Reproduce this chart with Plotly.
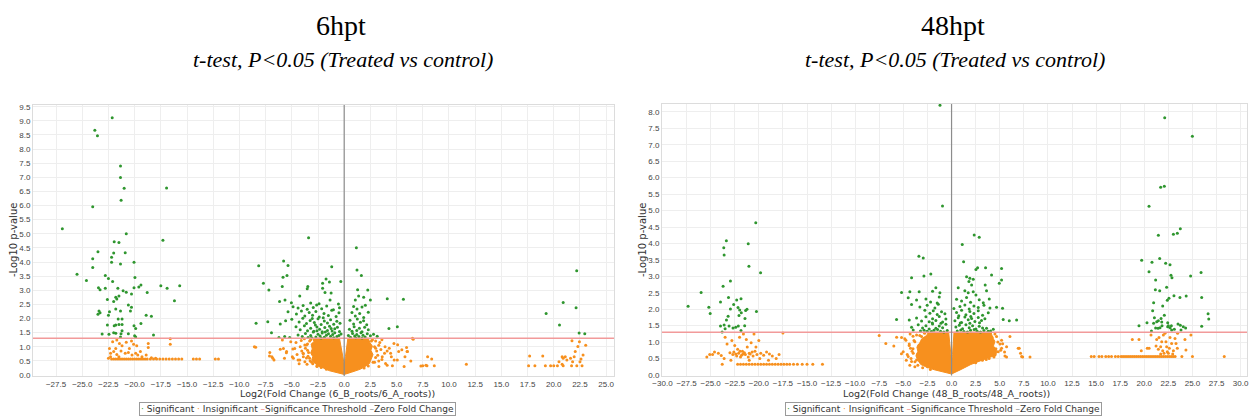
import plotly.graph_objects as go

# ---------------- 6hpt panel data ----------------
sig_6 = [(-22.14, 9.11), (-23.8, 8.67), (-23.55, 8.47), (-21.35, 7.40), (-21.35, 6.99), (-21.0, 6.61),
         (-16.95, 6.62), (-21.29, 6.19), (-24.0, 5.96), (-26.9, 5.18), (-20.8, 5.0), (-17.3, 4.77),
         (-21.95, 4.72), (-21.5, 4.69), (-23.5, 4.36), (-20.9, 4.33), (-22.0, 4.32), (-24.0, 4.12),
         (-22.2, 4.17), (-22.2, 3.99), (-21.35, 3.93), (-20.06, 3.99), (-24.0, 3.81), (-25.5, 3.57),
         (-19.97, 3.45), (-24.6, 3.35), (-22.8, 3.52), (-22.5, 3.42), (-22.1, 3.31), (-17.5, 3.16),
         (-15.7, 3.16), (-23.45, 3.09), (-23.3, 3.02), (-22.8, 3.07), (-21.6, 3.07), (-21.1, 2.98),
         (-20.8, 2.93), (-20.3, 2.87), (-20.06, 3.09), (-19.6, 3.12), (-19.4, 3.19), (-18.8, 2.92),
         (-16.9, 3.07), (-21.5, 2.80), (-21.8, 2.75), (-21.7, 2.69), (-20.6, 2.48), (-20.3, 2.40),
         (-20.4, 2.27), (-22.6, 2.67), (-22.0, 2.60), (-16.2, 2.63), (-23.4, 2.27), (-23.3, 2.20),
         (-23.5, 2.15), (-22.4, 2.24), (-21.8, 2.34), (-22.5, 2.12), (-21.35, 2.27), (-21.2, 1.98),
         (-21.57, 1.98), (-22.6, 1.77), (-21.95, 1.74), (-21.8, 1.77), (-21.5, 1.79), (-21.2, 1.79),
         (-20.06, 1.74), (-19.9, 1.65), (-19.4, 1.82), (-18.9, 2.12), (-18.4, 2.08), (-18.2, 1.42),
         (-23.1, 1.45), (-22.45, 1.44), (-22.0, 1.50), (-21.8, 1.48), (-21.3, 1.46), (-20.6, 1.46),
         (-20.0, 1.39), (-19.9, 1.35), (-21.2, 1.57), (-21.35, 1.35),
         (-3.40, 4.86), (1.16, 4.51), (-5.78, 4.04), (-8.16, 3.87), (-5.36, 3.88), (-5.46, 3.52),
         (-5.84, 3.46), (-1.19, 3.83), (1.22, 3.72), (1.64, 3.52), (-7.71, 3.25), (-1.73, 3.40),
         (-1.41, 3.29), (-0.32, 3.31), (-2.06, 3.25), (-5.91, 3.13), (-7.19, 3.01), (-3.47, 3.13),
         (-3.53, 3.05), (-2.06, 3.07), (-1.83, 2.92), (-1.25, 2.90), (1.28, 3.02), (2.25, 3.01),
         (4.11, 2.70), (5.65, 2.68), (-6.17, 2.60), (-5.65, 2.66), (-5.04, 2.56), (-4.24, 2.80),
         (-1.35, 2.66), (-0.55, 2.51), (1.06, 2.66), (1.38, 2.80), (1.86, 2.75), (2.50, 2.66),
         (-4.88, 2.42), (-4.40, 2.37), (-3.92, 2.46), (-3.53, 2.33), (-2.95, 2.39), (-2.63, 2.48),
         (-2.15, 2.35), (-1.67, 2.44), (-1.03, 2.31), (0.90, 2.43), (1.22, 2.34), (1.70, 2.41),
         (2.02, 2.47), (-0.45, 2.38), (-2.4, 2.52), (-3.2, 2.55),
         (-5.36, 2.24), (-4.56, 2.16), (-4.08, 2.27), (-3.76, 2.09), (-3.34, 2.21), (-3.02, 2.12),
         (-2.70, 2.25), (-2.38, 2.05), (-1.93, 2.18), (-1.51, 2.11), (-1.19, 2.29), (-0.77, 2.07),
         (0.74, 2.21), (1.06, 2.09), (1.48, 2.18), (1.86, 2.04), (2.3, 2.22), (-0.5, 2.2),
         (-5.0, 1.97), (-4.3, 1.88), (-3.95, 2.01), (-3.6, 1.82), (-3.25, 1.93), (-2.85, 1.86),
         (-2.5, 1.99), (-2.2, 1.79), (-1.9, 1.91), (-1.6, 1.84), (-1.3, 1.96), (-1.0, 1.80),
         (-0.7, 1.90), (-0.4, 1.83), (0.55, 1.94), (0.9, 1.81), (1.25, 1.98), (1.55, 1.87),
         (1.85, 1.92), (2.15, 1.78), (-2.0, 2.03), (-3.05, 2.0),
         (-8.41, 1.83), (-7.29, 1.89), (-6.10, 1.81), (-5.59, 1.92), (-6.94, 1.50),
         (-4.6, 1.71), (-4.2, 1.60), (-3.8, 1.74), (-3.5, 1.57), (-3.2, 1.66), (-2.9, 1.55),
         (-2.6, 1.70), (-2.35, 1.62), (-2.1, 1.53), (-1.85, 1.68), (-1.6, 1.58), (-1.4, 1.73),
         (-1.15, 1.56), (-0.9, 1.64), (-0.65, 1.69), (-0.45, 1.54), (-2.75, 1.77), (-1.25, 1.65),
         (0.5, 1.62), (0.75, 1.55), (0.95, 1.71), (1.2, 1.58), (1.45, 1.66), (1.7, 1.53),
         (1.95, 1.69), (2.3, 1.60), (4.27, 1.65), (5.07, 1.71),
         (-4.4, 1.42), (-4.0, 1.36), (-3.7, 1.47), (-3.45, 1.33), (-3.2, 1.40), (-2.95, 1.52),
         (-2.7, 1.35), (-2.5, 1.44), (-2.3, 1.38), (-2.1, 1.49), (-1.9, 1.34), (-1.7, 1.41),
         (-1.5, 1.46), (-1.3, 1.37), (-1.1, 1.43), (-0.9, 1.50), (-0.7, 1.36), (-0.5, 1.40),
         (-0.3, 1.45), (-2.6, 1.57), (-1.8, 1.52), (-1.0, 1.32), (-3.1, 1.32), (-2.2, 1.31),
         (0.4, 1.40), (0.6, 1.34), (0.8, 1.47), (1.0, 1.38), (1.2, 1.43), (1.4, 1.36),
         (1.6, 1.50), (1.8, 1.41), (2.0, 1.35), (2.2, 1.46), (2.5, 1.39), (2.8, 1.44),
         (3.15, 1.37), (1.1, 1.32), (1.7, 1.31), (-5.68, 1.36), (-6.23, 1.33), (-5.20, 1.33),
         (22.19, 3.69), (20.9, 2.57), (22.13, 2.38), (19.27, 2.18), (20.55, 1.77), (22.42, 1.49),
         (22.96, 1.46)]

ins_6 = [(-22.4, 0.94), (-22.1, 1.18), (-21.7, 1.24), (-21.45, 1.12), (-21.2, 1.04), (-20.8, 1.16),
         (-20.3, 1.20), (-20.1, 1.09), (-19.8, 1.04), (-18.7, 1.12), (-18.7, 0.97), (-16.6, 1.28),
         (-16.6, 1.09), (-22.3, 0.77), (-22.0, 0.83), (-21.7, 0.73), (-21.3, 0.85), (-20.9, 0.77),
         (-20.6, 0.80), (-20.25, 0.71), (-19.9, 0.77), (-19.7, 0.71), (-19.3, 0.65), (-18.9, 0.71),
         (-22.3, 0.65), (-21.8, 0.94), (-22.5, 0.59), (-21.5, 0.65), (-20.5, 0.94), (-19.45, 0.83),
         (-18.4, 0.61), (-18.0, 0.59),
         (-22.2, 0.57), (-22.0, 0.57), (-21.8, 0.57), (-21.6, 0.57), (-21.4, 0.57), (-21.2, 0.57),
         (-21.0, 0.57), (-20.8, 0.57), (-20.6, 0.57), (-20.4, 0.57), (-20.2, 0.57), (-20.0, 0.57),
         (-19.8, 0.57), (-19.6, 0.57), (-19.4, 0.57), (-19.2, 0.57), (-19.0, 0.57), (-18.8, 0.57),
         (-18.5, 0.57), (-18.2, 0.57), (-17.9, 0.57), (-17.6, 0.57), (-17.3, 0.57), (-17.0, 0.57),
         (-16.7, 0.57), (-16.4, 0.57), (-16.1, 0.57), (-15.8, 0.57), (-15.5, 0.57), (-14.4, 0.57),
         (-14.1, 0.57), (-13.8, 0.57), (-12.3, 0.57), (-12.0, 0.57),
         (-8.45, 0.98), (-7.1, 0.80), (-6.9, 0.65), (-6.7, 0.53), (-5.9, 1.24), (-5.8, 0.94),
         (-5.7, 0.59), (-5.5, 0.83), (-5.1, 1.18), (-4.9, 0.92), (-4.85, 0.59), (-4.5, 0.73),
         (-4.4, 0.53), (-4.05, 0.85), (-3.9, 0.65), (-3.75, 0.47), (-3.6, 1.06), (-3.3, 0.59),
         (-3.0, 0.83), (-2.8, 0.47), (-8.57, 1.0), (-7.13, 0.67), (-6.81, 0.59), (-6.10, 0.91),
         (-5.52, 0.79), (-4.95, 0.65), (-4.72, 0.94), (-4.24, 0.53), (-3.92, 0.77), (-3.76, 1.06),
         (-3.2, 1.25), (-3.5, 1.1), (-3.7, 0.95), (-3.4, 0.8), (-3.6, 0.6), (-3.1, 0.45),
         (-2.6, 0.3), (-3.9, 0.75), (-4.2, 1.0), (-3.0, 1.1), (-3.3, 1.2), (-3.5, 0.88),
         (-3.45, 0.66), (-3.25, 0.5), (-3.0, 0.4), (-2.6, 0.33), (-2.2, 0.27), (-1.7, 0.2),
         (-4.1, 1.22), (-3.8, 1.28), (-4.6, 1.15), (-4.3, 0.4), (-3.55, 0.38),
         (3.0, 1.2), (3.3, 1.05), (3.5, 0.9), (3.2, 0.7), (3.6, 0.55), (2.9, 0.45), (3.9, 1.0),
         (4.1, 0.85), (3.0, 0.95), (2.7, 1.25), (2.6, 1.2), (2.9, 1.0), (3.1, 0.85), (3.0, 0.62),
         (2.75, 0.45), (2.3, 0.32), (1.9, 0.25), (3.4, 1.15), (3.3, 0.5), (3.6, 1.25),
         (4.43, 0.77), (5.07, 0.53), (5.72, 0.30),
         (6.04, 0.83), (6.52, 1.30), (7.32, 0.32), (7.80, 0.35), (3.63, 0.65), (3.95, 0.41),
         (3.31, 0.30), (4.75, 1.12), (6.58, 1.27), (7.96, 0.65), (8.35, 0.57), (7.9, 0.33),
         (7.5, 0.33), (8.6, 0.33), (11.66, 0.38), (6.36, 0.5), (6.0, 0.83), (5.1, 1.07),
         (5.5, 0.89), (5.8, 0.65), (4.6, 0.33), (4.77, 0.53), (4.1, 0.35), (5.95, 0.97),
         (4.3, 0.95), (3.85, 0.77), (5.2, 0.83), (4.5, 0.65),
         (17.7, 0.67), (17.6, 0.33), (18.2, 0.33), (18.95, 0.67), (19.2, 0.33), (19.7, 0.33),
         (20.0, 0.33), (20.35, 0.33), (20.5, 0.47), (20.8, 0.65), (20.9, 0.59), (21.1, 0.65),
         (21.25, 0.53), (20.8, 0.38), (20.9, 0.33), (21.7, 0.33), (21.8, 0.47), (21.95, 0.65),
         (22.05, 0.83), (22.3, 1.01), (22.45, 1.18), (21.74, 1.21), (22.6, 0.57), (22.7, 0.33),
         (22.8, 0.71), (23.05, 1.05), (21.6, 0.59), (22.5, 0.47), (22.2, 0.33)]

# outline of the solid orange core around zero fold change (6hpt)
core_6 = [(0.0, 0.02), (-0.8, 0.1), (-1.4, 0.15), (-2.0, 0.25), (-2.5, 0.32), (-2.8, 0.42),
          (-3.1, 0.52), (-3.0, 0.65), (-3.2, 0.78), (-3.05, 0.92), (-3.15, 1.08), (-2.9, 1.18),
          (-3.0, 1.30), (-0.45, 1.30), (-0.12, 0.65), (0.0, 0.38), (0.12, 0.65), (0.35, 1.30),
          (2.3, 1.30), (2.45, 1.15), (2.7, 1.02), (2.55, 0.88), (2.75, 0.72), (2.55, 0.55),
          (2.4, 0.4), (2.0, 0.3), (1.5, 0.2), (0.7, 0.1), (0.0, 0.02)]

# ---------------- 48hpt panel data ----------------
sig_48 = [(2.35, 4.26), (2.87, 4.19), (1.11, 3.97), (-3.39, 3.61), (-2.94, 3.56), (1.25, 3.44),
          (2.53, 3.21), (2.70, 3.26), (3.53, 3.26), (5.19, 3.24), (4.15, 3.04), (-2.15, 3.07),
          (-2.87, 3.01), (-4.15, 2.96), (1.56, 2.99), (1.90, 2.94), (2.25, 2.91), (5.19, 2.89),
          (4.95, 2.79), (1.80, 2.84), (2.08, 2.74), (3.49, 2.74), (0.69, 2.65), (-1.63, 2.65),
          (-1.97, 2.55), (-5.19, 2.51), (-4.33, 2.53), (-3.36, 2.53), (1.38, 2.56), (1.73, 2.50),
          (2.25, 2.53), (2.53, 2.43), (3.63, 2.56), (-1.21, 2.50), (-4.50, 2.35), (-3.63, 2.28),
          (-2.66, 2.31), (-2.18, 2.22), (-1.49, 2.19), (0.52, 2.30), (1.04, 2.25), (1.56, 2.36),
          (1.97, 2.21), (2.87, 2.29), (3.29, 2.20), (3.91, 2.31), (-1.28, 2.37), (-4.15, 2.14),
          (-3.29, 2.07), (-2.53, 2.12), (-1.73, 2.04), (-1.38, 2.15), (0.24, 2.02), (0.87, 2.08),
          (1.38, 2.13), (1.83, 2.01), (2.32, 2.10), (2.77, 2.05), (3.36, 2.12), (3.98, 2.04),
          (4.67, 2.06), (5.29, 2.03), (-2.77, 1.97), (-2.25, 1.88), (-1.90, 1.95), (-1.49, 1.84),
          (-1.04, 1.92), (-0.69, 1.86), (0.52, 1.90), (1.04, 1.97), (1.49, 1.83), (1.90, 1.93),
          (2.32, 1.87), (2.77, 1.95), (3.22, 1.82), (3.81, 1.89), (0.75, 1.80), (2.0, 1.78),
          (-5.71, 1.69), (-4.39, 1.67), (-3.63, 1.73), (-3.11, 1.64), (-2.66, 1.77), (-2.32, 1.62),
          (-1.97, 1.71), (-1.63, 1.66), (-1.28, 1.78), (-0.93, 1.61), (-0.59, 1.70), (0.35, 1.65),
          (0.69, 1.74), (1.04, 1.60), (1.38, 1.76), (1.73, 1.68), (2.08, 1.72), (2.42, 1.63),
          (2.77, 1.75), (3.11, 1.66), (3.46, 1.71), (5.99, 1.65), (6.75, 1.67), (5.36, 1.69),
          (-2.0, 1.58), (-1.1, 1.57), (0.9, 1.58), (1.9, 1.57), (2.9, 1.59),
          (-4.15, 1.45), (-3.46, 1.53), (-3.01, 1.43), (-2.66, 1.50), (-2.32, 1.40), (-1.97, 1.55),
          (-1.63, 1.42), (-1.28, 1.49), (-0.93, 1.44), (-0.59, 1.54), (0.45, 1.46), (0.80, 1.51),
          (1.14, 1.41), (1.49, 1.53), (1.83, 1.44), (2.18, 1.50), (2.53, 1.40), (2.87, 1.48),
          (3.22, 1.43), (3.63, 1.42), (4.33, 1.39), (-3.98, 1.37), (-3.22, 1.34), (-2.53, 1.33),
          (-1.83, 1.36), (-1.14, 1.33), (-0.45, 1.35), (0.59, 1.34), (1.28, 1.32), (1.97, 1.36),
          (2.66, 1.33), (3.36, 1.35), (4.05, 1.34), (-2.85, 1.36), (-2.1, 1.32), (-1.45, 1.38),
          (-0.8, 1.31), (0.95, 1.37), (1.65, 1.31), (2.35, 1.38), (3.0, 1.31), (3.8, 1.33),
          (-0.94, 5.14), (-1.2, 8.2),
          (-20.32, 4.63), (-23.37, 4.08), (-23.64, 3.87), (-23.60, 3.65), (-21.1, 3.99),
          (-21.03, 3.31), (-19.82, 3.11), (-22.95, 2.86), (-23.71, 2.70), (-25.99, 2.51),
          (-27.34, 2.09), (-25.19, 2.06), (-25.05, 1.87), (-23.15, 2.36), (-23.98, 2.22),
          (-22.30, 2.28), (-21.85, 2.32), (-22.61, 2.14), (-22.95, 2.01), (-22.16, 2.05),
          (-21.99, 1.98), (-21.82, 1.89), (-22.06, 1.81), (-21.37, 1.96), (-21.23, 2.00),
          (-21.44, 1.72), (-20.25, 1.93), (-23.19, 1.79), (-23.36, 1.67), (-23.98, 1.49),
          (-23.60, 1.52), (-23.09, 1.49), (-22.68, 1.43), (-22.40, 1.45), (-22.13, 1.49),
          (-21.47, 1.50), (-23.81, 1.31), (-21.85, 1.35), (-23.5, 1.41),
          (22.12, 7.82), (24.99, 7.26), (21.70, 5.71), (22.08, 5.74), (20.49, 5.13), (23.74, 4.45),
          (23.43, 4.31), (23.02, 4.28), (21.46, 4.25), (19.73, 3.49), (21.60, 3.54), (20.80, 3.43),
          (22.22, 3.40), (22.67, 3.35), (20.49, 3.14), (25.89, 3.12), (24.81, 3.01), (22.77, 3.03),
          (22.87, 2.96), (21.18, 2.89), (22.32, 2.67), (21.15, 2.59), (21.60, 2.56), (25.96, 2.36),
          (23.08, 2.41), (23.70, 2.36), (24.35, 2.40), (22.56, 2.33), (22.39, 2.27), (20.97, 2.20),
          (21.91, 2.10), (20.87, 1.95), (26.62, 1.86), (26.69, 1.70), (22.08, 1.82), (21.74, 1.72),
          (21.46, 1.65), (21.05, 1.74), (20.28, 1.59), (19.45, 1.50), (20.97, 1.57), (21.29, 1.62),
          (21.81, 1.61), (22.43, 1.59), (22.43, 1.47), (21.84, 1.50), (21.43, 1.42), (21.18, 1.43),
          (21.63, 1.44), (22.50, 1.50), (22.81, 1.50), (23.12, 1.39), (23.50, 1.55), (23.74, 1.51),
          (24.05, 1.47), (24.29, 1.43), (23.81, 1.37), (20.74, 1.34), (25.96, 1.48), (22.84, 1.37),
          (22.67, 1.44)]

ins_48 = [(-25.1, 0.62), (-24.6, 0.70), (-24.2, 0.66), (-23.9, 0.59), (-23.6, 0.50), (-23.3, 0.94),
          (-23.0, 0.68), (-22.8, 1.05), (-22.5, 0.90), (-22.4, 0.64), (-22.2, 0.78), (-22.0, 1.15),
          (-21.9, 0.55), (-21.7, 0.72), (-21.6, 1.25), (-21.4, 0.62), (-21.2, 0.85), (-21.0, 0.66),
          (-20.8, 0.98), (-20.6, 0.58), (-20.4, 0.72), (-20.2, 0.62), (-20.0, 1.05), (-19.8, 0.66),
          (-19.5, 0.60), (-19.2, 0.70), (-18.9, 0.64), (-18.6, 0.58), (-18.2, 0.50), (-17.9, 0.62),
          (-17.5, 1.28), (-22.7, 0.62), (-22.1, 0.66), (-21.8, 0.60), (-21.5, 0.68), (-21.1, 0.55),
          (-20.9, 0.64), (-20.7, 0.70), (-23.5, 1.15), (-24.8, 0.62), (-25.4, 0.55), (-21.3, 1.08),
          (-20.5, 1.25), (-22.9, 0.45), (-21.0, 0.45), (-19.0, 0.45), (-19.9, 0.5), (-20.3, 0.85),
          (-23.8, 0.33), (-22.6, 0.70), (-22.3, 0.58), (-21.95, 0.72), (-21.65, 0.64),
          (-22.2, 0.33), (-21.9, 0.33), (-21.6, 0.33), (-21.3, 0.33), (-21.0, 0.33), (-20.7, 0.33),
          (-20.4, 0.33), (-20.1, 0.33), (-19.8, 0.33), (-19.5, 0.33), (-19.2, 0.33), (-18.9, 0.33),
          (-18.6, 0.33), (-18.3, 0.33), (-18.0, 0.33), (-17.7, 0.33), (-17.4, 0.33), (-17.1, 0.33),
          (-16.8, 0.33), (-16.4, 0.33), (-16.0, 0.33), (-15.5, 0.33), (-15.0, 0.33), (-14.4, 0.33),
          (-13.4, 0.33),
          (-7.51, 1.20), (-6.82, 0.96), (-5.99, 0.88), (-5.19, 1.14), (-4.74, 1.06), (-4.39, 0.94),
          (-5.02, 0.71), (-4.50, 0.56), (-4.15, 0.41), (-4.33, 0.30), (-3.81, 0.25), (-3.63, 0.46),
          (-3.98, 0.66), (-4.26, 0.81), (-3.81, 1.01), (-3.63, 1.22), (-3.11, 1.17), (-5.7, 1.15),
          (-5.2, 0.65), (-4.85, 1.10), (-4.2, 0.5), (-4.0, 0.8), (-3.8, 0.4),
          (-4.3, 1.25), (-4.0, 1.18), (-3.9, 1.05), (-4.4, 0.9), (-4.1, 0.72), (-4.6, 0.62),
          (-3.5, 0.3), (-3.0, 0.22), (-2.5, 0.25), (-2.2, 0.17), (-4.7, 0.45), (-3.3, 1.2),
          (-2.8, 1.27), (-3.4, 0.9), (-3.55, 0.62),
          (4.5, 1.25), (4.8, 1.0), (5.1, 0.75), (4.4, 0.55), (3.6, 0.47), (5.3, 0.95), (4.2, 1.15),
          (5.5, 0.7), (3.2, 0.45), (2.5, 0.37), (4.6, 0.8), (3.9, 0.5),
          (4.67, 1.17), (5.19, 1.06), (6.06, 1.17), (5.71, 0.86), (5.19, 0.81), (5.54, 0.58),
          (4.84, 0.71), (6.92, 0.81), (7.16, 0.66), (7.27, 0.56), (4.50, 0.61), (5.02, 0.94),
          (7.02, 0.81), (7.38, 0.55), (8.14, 0.55), (5.71, 0.55),
          (18.76, 1.08), (19.45, 1.08), (19.69, 0.74), (20.31, 0.81), (20.5, 0.81), (20.7, 1.22),
          (21.29, 1.08), (21.53, 1.14), (21.70, 0.86), (21.81, 1.01), (21.98, 1.22), (22.15, 1.27),
          (22.25, 1.01), (22.32, 0.86), (22.39, 0.71), (22.6, 0.81), (22.67, 1.14), (22.84, 0.96),
          (23.02, 0.74), (23.19, 1.11), (23.29, 0.96), (23.43, 0.81), (23.46, 1.27), (24.22, 1.08),
          (24.32, 0.76), (24.84, 1.22), (21.91, 0.74), (22.05, 0.66), (21.7, 0.64), (21.46, 0.78),
          (21.22, 0.88), (22.5, 0.66), (22.95, 0.64),
          (14.5, 0.56), (14.8, 0.56), (15.3, 0.56), (15.6, 0.56), (16.0, 0.56), (16.3, 0.56),
          (16.6, 0.56), (17.0, 0.56), (17.3, 0.56), (17.6, 0.56), (17.8, 0.56), (18.0, 0.56),
          (18.2, 0.56), (18.4, 0.56), (18.6, 0.56), (18.8, 0.56), (19.0, 0.56), (19.2, 0.56),
          (19.4, 0.56), (19.6, 0.56), (19.8, 0.56), (20.0, 0.56), (20.2, 0.56), (20.4, 0.56),
          (20.6, 0.56), (20.8, 0.56), (21.0, 0.56), (21.2, 0.56), (21.4, 0.56), (21.6, 0.56),
          (21.8, 0.56), (22.0, 0.56), (22.2, 0.56), (22.4, 0.56), (22.6, 0.56), (22.8, 0.56),
          (23.0, 0.56), (23.2, 0.56), (23.9, 0.56), (25.0, 0.56), (28.3, 0.56)]

core_48 = [(0.0, 0.03), (-1.0, 0.09), (-1.8, 0.16), (-2.6, 0.24), (-3.2, 0.32), (-3.5, 0.45),
           (-3.7, 0.58), (-3.5, 0.72), (-3.6, 0.85), (-3.3, 0.98), (-3.1, 1.1), (-2.6, 1.2),
           (-2.4, 1.30), (-0.3, 1.30), (-0.1, 0.62), (0.0, 0.42), (0.1, 0.62), (0.25, 1.30),
           (4.1, 1.30), (4.25, 1.15), (4.5, 1.02), (4.35, 0.88), (4.7, 0.75), (4.6, 0.6),
           (3.8, 0.52), (3.0, 0.44), (2.0, 0.32), (1.0, 0.17), (0.4, 0.08), (0.0, 0.03)]

threshold = 1.301
x_ticks_6 = [-27.5, -25.0, -22.5, -20.0, -17.5, -15.0, -12.5, -10.0, -7.5, -5.0, -2.5, 0.0,
             2.5, 5.0, 7.5, 10.0, 12.5, 15.0, 17.5, 20.0, 22.5, 25.0]
y_ticks_6 = [0.0, 0.5, 1.0, 1.5, 2.0, 2.5, 3.0, 3.5, 4.0, 4.5, 5.0, 5.5, 6.0, 6.5, 7.0, 7.5,
             8.0, 8.5, 9.0, 9.5]
x_ticks_48 = [-30.0, -27.5, -25.0, -22.5, -20.0, -17.5, -15.0, -12.5, -10.0, -7.5, -5.0, -2.5,
              0.0, 2.5, 5.0, 7.5, 10.0, 12.5, 15.0, 17.5, 20.0, 22.5, 25.0, 27.5, 30.0]
y_ticks_48 = [0.0, 0.5, 1.0, 1.5, 2.0, 2.5, 3.0, 3.5, 4.0, 4.5, 5.0, 5.5, 6.0, 6.5, 7.0, 7.5, 8.0]

GREEN = "#2f962f"
ORANGE = "#f7901e"
W, H = 1250, 419


def xs(pts):
    return [p[0] for p in pts]


def ys(pts):
    return [p[1] for p in pts]


fig = go.Figure()
panels = [("x", "y", sig_6, ins_6, core_6), ("x2", "y2", sig_48, ins_48, core_48)]
for xa, ya, sig, ins, core in panels:
    fig.add_trace(go.Scatter(x=xs(core), y=ys(core), xaxis=xa, yaxis=ya, mode="lines",
                             fill="toself", fillcolor=ORANGE, line=dict(width=1, color=ORANGE),
                             hoverinfo="skip", showlegend=False))
    fig.add_trace(go.Scatter(x=xs(ins), y=ys(ins), xaxis=xa, yaxis=ya, mode="markers",
                             marker=dict(color=ORANGE, size=3.0, line=dict(width=0)),
                             name="Insignificant", showlegend=False))
    fig.add_trace(go.Scatter(x=xs(sig), y=ys(sig), xaxis=xa, yaxis=ya, mode="markers",
                             marker=dict(color=GREEN, size=3.0, line=dict(width=0)),
                             name="Significant", showlegend=False))
    fig.add_shape(type="line", xref=xa + " domain", yref=ya, x0=0, x1=1,
                  y0=threshold, y1=threshold, line=dict(color="#f29a9a", width=1.6), layer="above")
    fig.add_shape(type="line", xref=xa, yref=ya + " domain", x0=0, x1=0, y0=0, y1=1,
                  line=dict(color="#8c8c8c", width=1.2), layer="above")

tickfont = dict(family="Liberation Sans", size=8, color="#444")
axis_common = dict(showgrid=True, gridcolor="#eeeeee", gridwidth=1, zeroline=False,
                   showline=True, linecolor="#dcdcdc", mirror=True, tickfont=tickfont,
                   tickformat=".1f", ticks="", tickangle=0, automargin=False)

fig.update_layout(
    width=W, height=H, margin=dict(l=0, r=0, t=0, b=0, autoexpand=False),
    paper_bgcolor="white", plot_bgcolor="white",
    xaxis=dict(domain=[33 / W, 614 / W], range=[-29.7, 25.75], tickvals=x_ticks_6,
               anchor="y", **axis_common),
    yaxis=dict(domain=[1 - 376 / H, 1 - 105 / H], range=[-0.035, 9.56], tickvals=y_ticks_6,
               anchor="x", **axis_common),
    xaxis2=dict(domain=[662 / W, 1247 / W], range=[-30.05, 30.66], tickvals=x_ticks_48,
                anchor="y2", **axis_common),
    yaxis2=dict(domain=[1 - 375.5 / H, 1 - 104 / H], range=[-0.015, 8.24], tickvals=y_ticks_48,
                anchor="x2", **axis_common),
)

serif = "Liberation Serif"
sans = "DejaVu Sans"
ann = []
for cx, title in [(341, "6hpt"), (953, "48hpt")]:
    ann.append(dict(x=cx / W, y=1 - 26 / H, xref="paper", yref="paper", text=title,
                    showarrow=False, font=dict(family=serif, size=28, color="black"),
                    xanchor="center", yanchor="middle"))
for cx in [343, 955]:
    ann.append(dict(x=cx / W, y=1 - 60 / H, xref="paper", yref="paper",
                    text="<i>t-test, P&lt;0.05 (Treated vs control)</i>", showarrow=False,
                    font=dict(family=serif, size=22, color="black"),
                    xanchor="center", yanchor="middle"))
for cx in [13, 642]:
    ann.append(dict(x=cx / W, y=1 - 240 / H, xref="paper", yref="paper", text="-Log10 p-value",
                    textangle=-90, showarrow=False, font=dict(family=sans, size=10, color="#333"),
                    xanchor="center", yanchor="middle"))
for cx, t in [(338, "Log2(Fold Change (6_B_roots/6_A_roots))"),
              (946, "Log2(Fold Change (48_B_roots/48_A_roots))")]:
    ann.append(dict(x=cx / W, y=1 - 393 / H, xref="paper", yref="paper", text=t,
                    showarrow=False, font=dict(family=sans, size=9.5, color="#333"),
                    xanchor="center", yanchor="middle"))
legend_text = (f"<span style='color:{GREEN}'>·</span> Significant "
               f"<span style='color:{ORANGE}'>·</span> Insignificant "
               f"<span style='color:#f08080'>–</span>Significance Threshold "
               f"<span style='color:#888'>–</span>Zero Fold Change")
for cx in [297, 943]:
    ann.append(dict(x=cx / W, y=1 - 409 / H, xref="paper", yref="paper", text=legend_text,
                    showarrow=False, font=dict(family=sans, size=9, color="#333"),
                    xanchor="center", yanchor="middle", bordercolor="#9a9a9a", borderwidth=1,
                    borderpad=1, bgcolor="white"))
fig.update_layout(annotations=ann)

fig.write_html("out.html")
